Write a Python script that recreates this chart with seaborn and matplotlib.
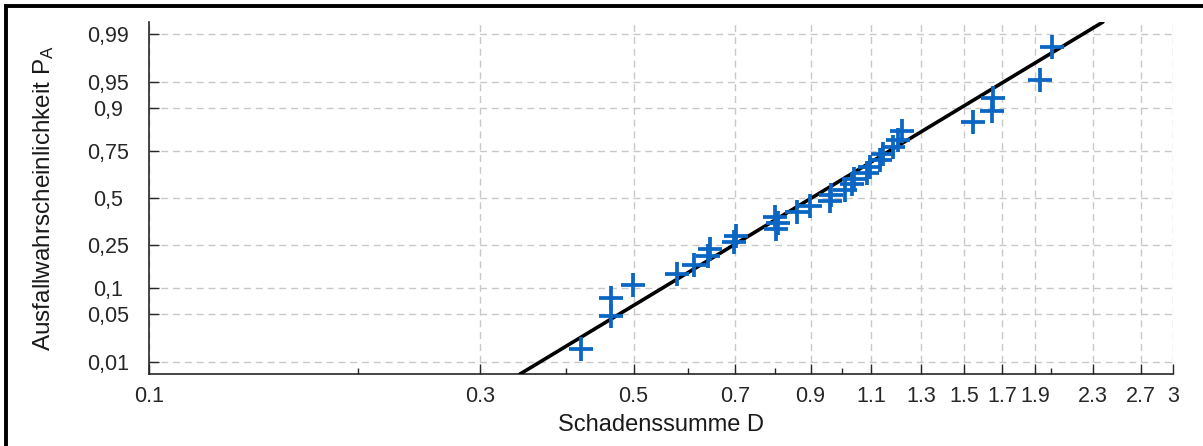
import math
from statistics import NormalDist

import numpy as np
import pandas as pd
import matplotlib
matplotlib.use("Agg")
import matplotlib.pyplot as plt
from matplotlib.patches import Rectangle
from matplotlib.ticker import FixedLocator, FixedFormatter, NullFormatter, NullLocator
import seaborn as sns

# damage sums (x) and failure probabilities (y)
damage = [0.420, 0.464, 0.464, 0.499, 0.578, 0.611, 0.640, 0.645, 0.698, 0.703,
          0.802, 0.808, 0.800, 0.860, 0.898, 0.960, 0.963, 1.009, 1.033, 1.040,
          1.085, 1.096, 1.133, 1.145, 1.183, 1.203, 1.219, 1.543, 1.644, 1.650,
          1.929, 2.007]
prob = [0.016, 0.047, 0.078, 0.109, 0.141, 0.172, 0.203, 0.234, 0.266, 0.297,
        0.328, 0.359, 0.391, 0.422, 0.453, 0.484, 0.516, 0.547, 0.578, 0.609,
        0.641, 0.672, 0.703, 0.734, 0.766, 0.797, 0.828, 0.859, 0.891, 0.922,
        0.953, 0.984]

# fitted lognormal line, end points
fit_x = [0.343, 2.377]
fit_p = [0.00621, 0.99379]

x_ticks = [0.1, 0.3, 0.5, 0.7, 0.9, 1.1, 1.3, 1.5, 1.7, 1.9, 2.3, 2.7, 3]
x_ticklabels = ["0.1", "0.3", "0.5", "0.7", "0.9", "1.1", "1.3", "1.5", "1.7",
                "1.9", "2.3", "2.7", "3"]
x_minor = [0.2, 0.4, 0.6, 0.8, 1.0, 2.0]
y_ticks = [0.01, 0.05, 0.1, 0.25, 0.5, 0.75, 0.9, 0.95, 0.99]
y_ticklabels = ["0,01", "0,05", "0,1", "0,25", "0,5", "0,75", "0,9", "0,95", "0,99"]

df = pd.DataFrame({"D": damage, "P": prob})
fit = pd.DataFrame({"D": fit_x, "P": fit_p})

ND = NormalDist()


def ppf(p):
    p = np.asarray(p, dtype=float)
    flat = np.clip(np.atleast_1d(p).ravel(), 1e-12, 1 - 1e-12)
    out = np.array([ND.inv_cdf(v) if np.isfinite(v) else np.nan for v in flat])
    return out.reshape(p.shape)


cdf = np.vectorize(lambda z: 0.5 * (1 + math.erf(z / math.sqrt(2))), otypes=[float])

sns.set_style("ticks")
plt.rcParams["font.family"] = ["Liberation Sans", "DejaVu Sans"]
plt.rcParams["mathtext.fontset"] = "custom"
plt.rcParams["mathtext.rm"] = "Liberation Sans"
plt.rcParams["mathtext.it"] = "Liberation Sans"

fig = plt.figure(figsize=(12.03, 4.46), dpi=100)
ax = fig.add_axes([149 / 1203, 1 - 374 / 446, 1024 / 1203, 352 / 446])

ax.set_xscale("log")
ax.set_yscale("function", functions=(ppf, cdf))

sns.lineplot(data=fit, x="D", y="P", color="black", lw=2.6, sort=False,
             ax=ax, zorder=3)
sns.scatterplot(data=df, x="D", y="P", marker="+", s=17 ** 2, linewidth=2.7,
                color="#0A66C2", ax=ax, zorder=4)

ax.set_xlim(0.1, 3)
ax.set_ylim(cdf(-2.5), cdf(2.5))

ax.xaxis.set_major_locator(FixedLocator(x_ticks))
ax.xaxis.set_major_formatter(FixedFormatter(x_ticklabels))
ax.xaxis.set_minor_locator(FixedLocator(x_minor))
ax.xaxis.set_minor_formatter(NullFormatter())
ax.yaxis.set_major_locator(FixedLocator(y_ticks))
ax.yaxis.set_major_formatter(FixedFormatter(y_ticklabels))
ax.yaxis.set_minor_locator(NullLocator())

ax.tick_params(which="both", direction="in", colors="#262626", labelcolor="#262626",
               labelsize=15.5, width=1)
ax.tick_params(which="major", length=7)
ax.tick_params(which="minor", length=4)
ax.tick_params(axis="x", pad=9)
ax.tick_params(axis="y", pad=29.5)
for lab in ax.get_yticklabels():
    lab.set_horizontalalignment("center")

ax.grid(True, which="major", color="#c8c8c8", linestyle=(0, (5, 3.5)), lw=1)
for side in ["top", "right"]:
    ax.spines[side].set_visible(False)
for side in ["left", "bottom"]:
    ax.spines[side].set_color("#262626")
    ax.spines[side].set_linewidth(1.2)

ax.set_xlabel("Schadenssumme D", fontsize=17, color="#1a1a1a")
ax.set_ylabel("Ausfallwahrscheinlichkeit P$_\\mathrm{A}$", fontsize=17.5, color="#1a1a1a")
ax.xaxis.set_label_coords(0.5, -0.115)
ax.yaxis.set_label_coords(-0.091, 0.5)

fig.patches.append(Rectangle((5.5 / 1203, -0.2), 1.2, 1.2 - 5.5 / 446,
                             transform=fig.transFigure, fill=False,
                             ec="black", lw=2.8))

fig.savefig("out.png", dpi=100)
